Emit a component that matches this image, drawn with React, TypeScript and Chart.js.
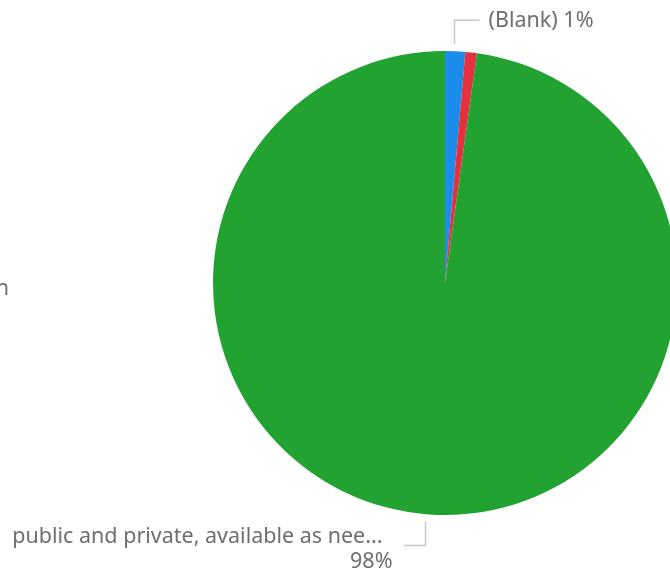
import React, { useEffect, useRef } from "react";
import { Chart, registerables } from "chart.js";

Chart.register(...registerables);

const categories = ["(Blank)", "Other", "public and private, available as nee..."];
const values = [1.4, 0.8, 97.8];
const labelTexts = ["(Blank) 1%", "", "public and private, available as nee...|98%"];
const colors = ["#1A8CEB", "#E5303F", "#22A331"];

const FONT = "21.5px 'Noto Sans', sans-serif";
const TEXT_COLOR = "#6e6e6e";
const LINE_COLOR = "#c8c8c8";

const labelPlugin = {
  id: "pbiLabels",
  afterDraw(chart: any) {
    const ctx = chart.ctx;
    const meta = chart.getDatasetMeta(0);
    ctx.save();
    ctx.font = FONT;
    ctx.fillStyle = TEXT_COLOR;
    ctx.strokeStyle = LINE_COLOR;
    ctx.lineWidth = 1.5;

    // Top label: (Blank)
    const a0 = meta.data[0];
    {
      const mid = (a0.startAngle + a0.endAngle) / 2;
      const ex = a0.x + a0.outerRadius * Math.cos(mid);
      const ey = a0.y + a0.outerRadius * Math.sin(mid);
      const lx = Math.round(ex) - 0.5;
      const yTop = ey - 31;
      ctx.beginPath();
      ctx.moveTo(lx, ey - 7);
      ctx.lineTo(lx, yTop);
      ctx.lineTo(lx + 25, yTop);
      ctx.stroke();
      ctx.textAlign = "left";
      ctx.textBaseline = "middle";
      ctx.fillText(labelTexts[0], lx + 34, yTop + 1);
    }

    // Bottom label: green
    const a2 = meta.data[2];
    {
      const mid = (a2.startAngle + a2.endAngle) / 2;
      const ex = a2.x + a2.outerRadius * Math.cos(mid);
      const ey = a2.y + a2.outerRadius * Math.sin(mid);
      const lx = Math.round(ex) - 3.5;
      const yBot = ey + 31;
      ctx.beginPath();
      ctx.moveTo(lx, ey + 7);
      ctx.lineTo(lx, yBot);
      ctx.lineTo(lx - 22, yBot);
      ctx.stroke();
      const parts = labelTexts[2].split("|");
      ctx.textAlign = "right";
      ctx.textBaseline = "middle";
      ctx.fillText(parts[0], lx - 43, yBot - 9);
      ctx.fillText(parts[1], lx - 33, yBot + 16);
    }

    // clipped legend text at left edge
    ctx.textAlign = "right";
    ctx.textBaseline = "middle";
    ctx.fillText("n", 9, a0.y + 6);
    ctx.restore();
  },
};

export default function App() {
  const ref = useRef<HTMLCanvasElement | null>(null);
  useEffect(() => {
    if (!ref.current) return;
    const chart = new Chart(ref.current, {
      type: "pie",
      data: {
        labels: categories,
        datasets: [
          {
            data: values,
            backgroundColor: colors,
            borderWidth: 0,
            radius: 232,
            clip: false,
          } as any,
        ],
      },
      options: {
        responsive: false,
        animation: false,
        layout: { padding: { left: 220, right: 0, top: 0, bottom: 11 } },
        plugins: { legend: { display: false }, tooltip: { enabled: false } },
      },
      plugins: [labelPlugin],
    });
    return () => chart.destroy();
  }, []);
  return (
    <div style={{ position: "absolute", left: 0, top: 0, width: 670, height: 577, overflow: "hidden", background: "#fff" }}>
      <canvas ref={ref} width={670} height={577} style={{ width: 670, height: 577 }} />
    </div>
  );
}
